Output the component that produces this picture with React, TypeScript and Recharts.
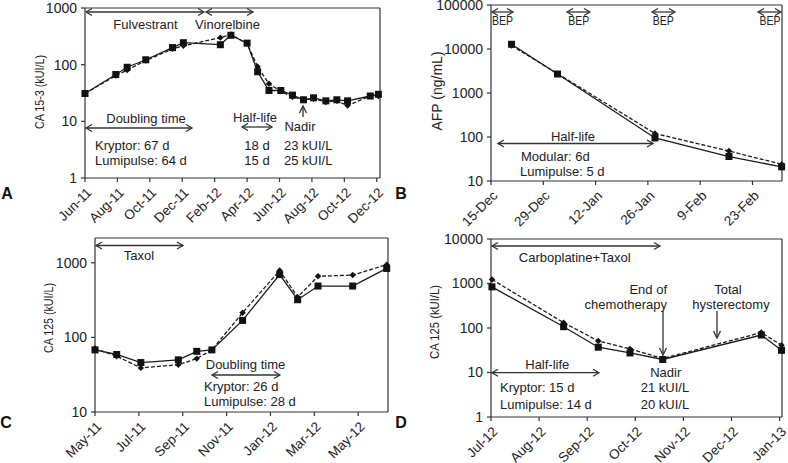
import React from 'react';
import { LineChart, Line, XAxis, YAxis, ReferenceLine } from 'recharts';

const FONT = '"Liberation Sans", Arial, sans-serif';
const INK = '#222';
const AXIS = '#333';

// ---------- Panel A : CA 15-3 ----------
const aMonths = [0, 1.9, 2.6, 3.75, 5.4, 6.07, 8.35, 9.0, 10.0, 10.65, 11.35, 12.08, 12.8, 13.48, 14.1, 14.86, 15.54, 16.2, 17.6, 18.1];
const aKryptor = [31, 67, 90, 122, 200, 244, 225, 330, 240, 75, 35, 35, 29, 24, 26, 23, 24, 23, 28, 30];
const aLumipulse = [31, 64, 80, 118, 190, 215, 300, 340, 235, 92, 46, 34, 27, 24, 25, 22, 23, 19, 28, 28];
const aTicks = [0, 2, 4, 6, 8, 10, 12, 14, 16, 18];
const aLabels = ['Jun-11', 'Aug-11', 'Oct-11', 'Dec-11', 'Feb-12', 'Apr-12', 'Jun-12', 'Aug-12', 'Oct-12', 'Dec-12'];
const aYTicks = [1, 10, 100, 1000];

// ---------- Panel B : AFP ----------
const bDays = [5.5, 17.8, 43.9, 63.7, 77.8];
const bModular = [12800, 2700, 95, 36, 21];
const bLumipulse = [12000, 2750, 120, 48, 24];
const bTicks = [0, 14, 28, 42, 56, 70];
const bLabels = ['15-Dec', '29-Dec', '12-Jan', '26-Jan', '9-Feb', '23-Feb'];
const bYTicks = [10, 100, 1000, 10000, 100000];

// ---------- Panel C : CA 125 ----------
const cMonths = [0, 0.99, 2.09, 3.8, 4.64, 5.33, 6.73, 8.42, 9.24, 10.17, 11.75, 13.3];
const cKryptor = [68, 59, 46, 50, 65, 68, 169, 695, 320, 488, 488, 840];
const cLumipulse = [71, 56, 39, 43, 52, 68, 214, 790, 347, 660, 685, 945];
const cTicks = [0, 2, 4, 6, 8, 10, 12];
const cLabels = ['May-11', 'Jul-11', 'Sep-11', 'Nov-11', 'Jan-12', 'Mar-12', 'May-12'];
const cYTicks = [10, 100, 1000];

// ---------- Panel D : CA 125 ----------
const dMonths = [0.02, 1.51, 2.23, 2.89, 3.57, 5.62, 6.04];
const dKryptor = [840, 107, 37, 27.5, 19.6, 69.5, 31.5];
const dLumipulse = [1230, 132, 51, 34, 20.6, 79, 41];
const dTicks = [0, 1, 2, 3, 4, 5, 6];
const dLabels = ['Jul-12', 'Aug-12', 'Sep-12', 'Oct-12', 'Nov-12', 'Dec-12', 'Jan-13'];
const dYTicks = [1, 10, 100, 1000, 10000];

const Square = (props: any) => {
  const { cx, cy, index } = props;
  if (cx == null || cy == null) return <g key={`s${index}`} />;
  return <rect key={`s${index}`} x={cx - 3.5} y={cy - 3.5} width={7} height={7} fill="#111" />;
};
const Diamond = (props: any) => {
  const { cx, cy, index } = props;
  if (cx == null || cy == null) return <g key={`d${index}`} />;
  return <polygon key={`d${index}`} points={`${cx},${cy - 3.2} ${cx + 3.2},${cy} ${cx},${cy + 3.2} ${cx - 3.2},${cy}`} fill="#111" />;
};

const makeXTick = (ticks: number[], labels: string[]) => (props: any) => {
  const { x, y, payload } = props;
  const i = ticks.indexOf(payload.value);
  return (
    <g transform={`translate(${x + 4},${y + 6}) rotate(-45)`}>
      <text x={0} y={0} dy="0.35em" textAnchor="end" fontSize={13.5} fontFamily={FONT} fill={INK}>
        {i >= 0 ? labels[i] : ''}
      </text>
    </g>
  );
};

type PanelProps = {
  t: number[]; k: number[]; l: number[];
  xDomain: [number, number]; xTicks: number[]; xLabels: string[];
  yDomain: [number, number]; yTicks: number[];
  box: [number, number, number, number];
};

const AX = 30; // axis band width / height

function Panel({ t, k, l, xDomain, xTicks, xLabels, yDomain, yTicks, box }: PanelProps) {
  const data = t.map((x, i) => ({ t: x, k: k[i], l: l[i] }));
  const [left, top, right, bottom] = box;
  return (
    <div style={{ position: 'absolute', left: 0, top: 0 }}>
      <LineChart width={788} height={463} data={data}
        margin={{ left: left - AX, top, right: 788 - right, bottom: 463 - bottom - AX }}>
        <XAxis dataKey="t" type="number" domain={xDomain} ticks={xTicks} interval={0}
          height={AX} tickSize={4} stroke={AXIS} strokeWidth={1.2}
          tick={makeXTick(xTicks, xLabels)} />
        <YAxis type="number" scale="log" domain={yDomain} ticks={yTicks} interval={0}
          width={AX} tickSize={4} tickMargin={4} stroke={AXIS} strokeWidth={1.2}
          tick={{ fontSize: 14, fontFamily: FONT, fill: INK }} />
        <ReferenceLine y={yDomain[1]} stroke={AXIS} strokeWidth={1.2} />
        <ReferenceLine x={xDomain[1]} stroke={AXIS} strokeWidth={1.2} />
        <Line dataKey="l" type="linear" stroke="#1a1a1a" strokeWidth={1.3} strokeDasharray="4 2"
          dot={Diamond} activeDot={false} isAnimationActive={false} />
        <Line dataKey="k" type="linear" stroke="#1a1a1a" strokeWidth={1.3}
          dot={Square} activeDot={false} isAnimationActive={false} />
      </LineChart>
    </div>
  );
}

const HArrow = ({ x1, x2, y }: { x1: number; x2: number; y: number }) => (
  <g stroke="#333" strokeWidth={1.3} fill="none">
    <line x1={x1} y1={y} x2={x2} y2={y} />
    <polyline points={`${x1 + 6},${y - 3.5} ${x1},${y} ${x1 + 6},${y + 3.5}`} />
    <polyline points={`${x2 - 6},${y - 3.5} ${x2},${y} ${x2 - 6},${y + 3.5}`} />
  </g>
);
const VArrow = ({ x, y1, y2 }: { x: number; y1: number; y2: number }) => {
  const dir = y2 > y1 ? 1 : -1;
  return (
    <g stroke="#333" strokeWidth={1.3} fill="none">
      <line x1={x} y1={y1} x2={x} y2={y2} />
      <polyline points={`${x - 3.5},${y2 - dir * 7} ${x},${y2} ${x + 3.5},${y2 - dir * 7}`} />
    </g>
  );
};
const T = ({ x, y, children, anchor = 'start', size = 13, len }: any) => (
  <text x={x} y={y} textAnchor={anchor} dominantBaseline="central" fontSize={size}
    fontFamily={FONT} fill={INK} textLength={len} lengthAdjust={len ? 'spacingAndGlyphs' : undefined}>{children}</text>
);
const YLabel = ({ x, y, children, size = 13, len }: any) => (
  <text transform={`translate(${x},${y}) rotate(-90)`} textAnchor="middle" dominantBaseline="central"
    fontSize={size} fontFamily={FONT} fill={INK} textLength={len}
    lengthAdjust={len ? 'spacingAndGlyphs' : undefined}>{children}</text>
);
const Letter = ({ x, y, children }: any) => (
  <text x={x} y={y} textAnchor="middle" dominantBaseline="central" fontSize={16} fontWeight="bold"
    fontFamily={FONT} fill="#111">{children}</text>
);

export default function App() {
  return (
    <div style={{ position: 'absolute', left: 0, top: 0, width: 788, height: 463, background: '#fff' }}>
      <Panel t={aMonths} k={aKryptor} l={aLumipulse} xDomain={[0, 18.2]} xTicks={aTicks} xLabels={aLabels}
        yDomain={[1, 1000]} yTicks={aYTicks} box={[85, 8, 380, 178]} />
      <Panel t={bDays} k={bModular} l={bLumipulse} xDomain={[0, 77.9]} xTicks={bTicks} xLabels={bLabels}
        yDomain={[10, 100000]} yTicks={bYTicks} box={[491, 5, 782, 181]} />
      <Panel t={cMonths} k={cKryptor} l={cLumipulse} xDomain={[0, 13.36]} xTicks={cTicks} xLabels={cLabels}
        yDomain={[10, 2150]} yTicks={cYTicks} box={[95, 238, 388, 412]} />
      <Panel t={dMonths} k={dKryptor} l={dLumipulse} xDomain={[0, 6.05]} xTicks={dTicks} xLabels={dLabels}
        yDomain={[1, 10000]} yTicks={dYTicks} box={[491, 239, 782, 417]} />
      <svg width={788} height={463} style={{ position: 'absolute', left: 0, top: 0, pointerEvents: 'none' }}>
        {/* Panel A */}
        <Letter x={7} y={193}>A</Letter>
        <YLabel x={40} y={92} size={12.5} len={74}>CA 15-3 (kUI/L)</YLabel>
        <HArrow x1={86} x2={204} y={12} />
        <HArrow x1={206} x2={253} y={12} />
        <T x={145.5} y={24} anchor="middle">Fulvestrant</T>
        <T x={227.5} y={24} anchor="middle">Vinorelbine</T>
        <T x={146} y={118} anchor="middle">Doubling time</T>
        <HArrow x1={86} x2={192} y={128} />
        <T x={95} y={145.5}>Kryptor: 67 d</T>
        <T x={95} y={160.5}>Lumipulse: 64 d</T>
        <T x={255} y={117} anchor="middle">Half-life</T>
        <HArrow x1={242} x2={272} y={127} />
        <T x={257} y={145.5} anchor="middle">18 d</T>
        <T x={257} y={160.5} anchor="middle">15 d</T>
        <T x={300} y={126} anchor="middle">Nadir</T>
        <VArrow x={303} y1={117} y2={106} />
        <T x={284} y={145.5}>23 kUI/L</T>
        <T x={284} y={160.5}>25 kUI/L</T>

        {/* Panel B */}
        <Letter x={401} y={193}>B</Letter>
        <YLabel x={437} y={91} size={14}>AFP (ng/mL)</YLabel>
        <HArrow x1={492} x2={513} y={12} />
        <HArrow x1={567} x2={590} y={12} />
        <HArrow x1={652} x2={675} y={12} />
        <HArrow x1={758} x2={781} y={12} />
        <T x={502.5} y={20.5} anchor="middle" size={12} len={21}>BEP</T>
        <T x={578.7} y={20.5} anchor="middle" size={12} len={21}>BEP</T>
        <T x={663.3} y={20.5} anchor="middle" size={12} len={21}>BEP</T>
        <T x={770} y={20.5} anchor="middle" size={12} len={21}>BEP</T>
        <T x={573} y={136.5} anchor="middle">Half-life</T>
        <HArrow x1={498} x2={653} y={143.5} />
        <T x={521} y={156.7}>Modular: 6d</T>
        <T x={520} y={171.7}>Lumipulse: 5 d</T>

        {/* Panel C */}
        <Letter x={6} y={422}>C</Letter>
        <YLabel x={49} y={318} size={12.5} len={70}>CA 125 (kUI/L)</YLabel>
        <HArrow x1={96} x2={183} y={245.5} />
        <T x={139} y={255} anchor="middle">Taxol</T>
        <T x={245.5} y={364} anchor="middle">Doubling time</T>
        <HArrow x1={212} x2={280} y={375} />
        <T x={204} y={386.7}>Kryptor: 26 d</T>
        <T x={204} y={401.7}>Lumipulse: 28 d</T>

        {/* Panel D */}
        <Letter x={401} y={422}>D</Letter>
        <YLabel x={435} y={322} size={12.5} len={74}>CA 125 (kUI/L)</YLabel>
        <HArrow x1={492} x2={660} y={246} />
        <T x={574.7} y={257.7} anchor="middle">Carboplatine+Taxol</T>
        <T x={667} y={289.5} anchor="end">End of</T>
        <T x={667} y={304.5} anchor="end">chemotherapy</T>
        <VArrow x={663} y1={311} y2={355} />
        <T x={728} y={289.5} anchor="middle">Total</T>
        <T x={731} y={304.5} anchor="middle">hysterectomy</T>
        <VArrow x={717} y1={311} y2={338} />
        <T x={547.3} y={364.3} anchor="middle">Half-life</T>
        <HArrow x1={492} x2={599} y={372.7} />
        <T x={500} y={387.7}>Kryptor: 15 d</T>
        <T x={500} y={404.3}>Lumipulse: 14 d</T>
        <T x={665.7} y={372} anchor="middle">Nadir</T>
        <T x={665} y={387.7} anchor="middle">21 kUI/L</T>
        <T x={665} y={404.3} anchor="middle">20 kUI/L</T>
      </svg>
    </div>
  );
}
